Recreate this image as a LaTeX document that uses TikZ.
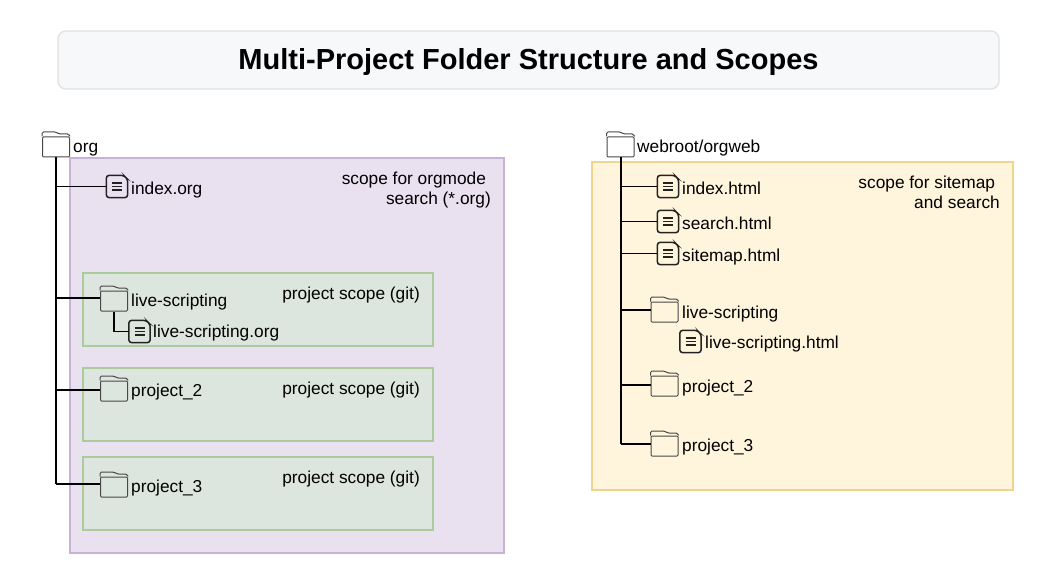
\documentclass[tikz,border=0pt]{standalone}
\usepackage{fontspec}
\setmainfont{Liberation Sans}
\usetikzlibrary{positioning}
\definecolor{titlefill}{HTML}{F7F8FA}
\definecolor{titleline}{HTML}{DFE0E2}
\definecolor{orgfill}{HTML}{E9E1EF}
\definecolor{orgline}{HTML}{C6B3D6}
\definecolor{gitfill}{HTML}{DDE6DE}
\definecolor{gitline}{HTML}{ABCB9C}
\definecolor{webfill}{HTML}{FFF4DC}
\definecolor{webline}{HTML}{EFD48C}
\definecolor{foldergray}{HTML}{484848}
\definecolor{fileline}{HTML}{222222}

\begin{document}
\begin{tikzpicture}[
    x=1pt,
    y=-1pt,
    font=\fontsize{17.3}{20}\selectfont,
    titlebox/.style={
		rectangle,
		rounded corners=8pt,
		draw=titleline,
		line width=1.3pt,
		fill=titlefill,
		minimum width=941pt,
		minimum height=58pt,
		text height=25pt,
		text depth=6pt,
		font=\fontsize{29}{34}\selectfont\bfseries
	},
	scopebox/.style={
		rectangle,
		line width=1.3pt,
		inner sep=0pt
	},
	orgscope/.style={scopebox, draw=orgline, fill=orgfill, minimum width=434pt, minimum height=395pt},
	webscope/.style={scopebox, draw=webline, fill=webfill, minimum width=421pt, minimum height=328pt},
	gitscope/.style={scopebox, draw=gitline, fill=gitfill, minimum width=350pt, minimum height=73pt},
	foldericon/.style={
		rectangle,
		draw=foldergray,
		rounded corners=1pt,
		line width=1pt,
		inner sep=0pt,
		minimum width=27pt,
		minimum height=20pt,
		append after command={\pgfextra{
			\draw [foldergray, line width=1pt, rounded corners=1.5pt]
				(\tikzlastnode.north west) -- ++(0,-4.5) -- ++(14,0) -- ++(3,2) -- ++(10,0) -- (\tikzlastnode.north east);
		}}
	},
	fileicon/.style={
		rectangle,
		inner sep=0pt,
		minimum width=21pt,
		minimum height=22pt,
		append after command={\pgfextra{
			\draw [fileline, line width=1.5pt, rounded corners=3pt]
				(\tikzlastnode.north west) -- ([xshift=-4pt]\tikzlastnode.north east)
				-- ([yshift=-4pt]\tikzlastnode.north east) -- (\tikzlastnode.south east)
				-- (\tikzlastnode.south west) -- cycle;
			\draw [fileline, line width=1.4pt]
				([xshift=-5pt,yshift=3.5pt]\tikzlastnode.center) -- ([xshift=5pt,yshift=3.5pt]\tikzlastnode.center)
				([xshift=-5pt]\tikzlastnode.center) -- ([xshift=5pt]\tikzlastnode.center)
				([xshift=-5pt,yshift=-3.5pt]\tikzlastnode.center) -- ([xshift=5pt,yshift=-3.5pt]\tikzlastnode.center);
		}}
	},
	itemtext/.style={anchor=base west, inner sep=0pt, text=black},
	scopetext/.style={anchor=base east, inner sep=0pt, align=right, text=black},
	trunk/.style={black, line width=2pt},
	branch/.style={black, line width=1.1pt}
  ]

 \useasboundingbox (0,0) rectangle (1048,577);

% // The title
 \node [titlebox] (title) at (528.5,60) {Multi-Project Folder Structure and Scopes};

% // The scopes
 \node [orgscope] (orgbox) at (287,355.5) {};
 \node [webscope] (webbox) at (802.5,326) {};
 \node [gitscope] (gitbox1) at (258,309.5) {};
 \node [gitscope] (gitbox2) at (258,404.5) {};
 \node [gitscope] (gitbox3) at (258,493.5) {};

 \node [scopetext] (orgscopetext) at (491,205) {scope for orgmode\kern4.8pt\\search (*.org)};
 \node [scopetext] (webscopetext) at (1000,208) {scope for sitemap\kern4.8pt\\and search};
 \node [scopetext] (gittext1) at (420,299) {project scope (git)};
 \node [scopetext] (gittext2) at (420,394) {project scope (git)};
 \node [scopetext] (gittext3) at (420,483) {project scope (git)};

% // The org tree
 \node [foldericon] (org) at (56,147) {};
 \node [fileicon] (indexorg) at (117,186.5) {};
 \node [foldericon] (live) at (114,301) {};
 \node [fileicon] (liveorg) at (139.5,331.5) {};
 \node [foldericon] (proj2) at (114,391) {};
 \node [foldericon] (proj3) at (114,487) {};

 \draw [trunk] (org.south) -- ([yshift=3pt]org.south |- proj3.west);
 \draw [branch] (org.south |- indexorg.west) -- (indexorg.west);
 \draw [branch] ([yshift=3pt]org.south |- live.west) -- ([yshift=3pt]live.west);
 \draw [branch] ([yshift=1pt]org.south |- proj2.west) -- ([yshift=1pt]proj2.west);
 \draw [branch] ([yshift=3pt]org.south |- proj3.west) -- ([yshift=3pt]proj3.west);
 \draw [branch] (live.south) |- (liveorg.west);

 \node [itemtext] (orgtext) at (73,153) {org};
 \node [itemtext] (indexorgtext) at (131,195) {index.org};
 \node [itemtext] (livetext) at (131,306) {live-scripting};
 \node [itemtext] (liveorgtext) at (153,337) {live-scripting.org};
 \node [itemtext] (proj2text) at (131,396) {project\_2};
 \node [itemtext] (proj3text) at (131,492) {project\_3};

% // The webroot tree
 \node [foldericon] (web) at (620.5,147) {};
 \node [fileicon] (indexhtml) at (668,186.5) {};
 \node [fileicon] (searchhtml) at (668,221.5) {};
 \node [fileicon] (sitemaphtml) at (668,253.5) {};
 \node [foldericon] (weblive) at (664.5,312) {};
 \node [fileicon] (livehtml) at (690.5,341.5) {};
 \node [foldericon] (webproj2) at (664.5,386) {};
 \node [foldericon] (webproj3) at (664.5,446) {};

 \draw [trunk] (web.south) -- ([yshift=2pt]web.south |- webproj3.west);
 \draw [branch] (web.south |- indexhtml.west) -- (indexhtml.west);
 \draw [branch] (web.south |- searchhtml.west) -- (searchhtml.west);
 \draw [branch] (web.south |- sitemaphtml.west) -- (sitemaphtml.west);
 \draw [branch] ([yshift=2pt]web.south |- weblive.west) -- ([yshift=2pt]weblive.west);
 \draw [branch] ([yshift=1pt]web.south |- webproj2.west) -- ([yshift=1pt]webproj2.west);
 \draw [branch] ([yshift=2pt]web.south |- webproj3.west) -- ([yshift=2pt]webproj3.west);

 \node [itemtext] (webtext) at (637,153) {webroot/orgweb};
 \node [itemtext] (indexhtmltext) at (682,195) {index.html};
 \node [itemtext] (searchhtmltext) at (682,229.5) {search.html};
 \node [itemtext] (sitemaphtmltext) at (682,261) {sitemap.html};
 \node [itemtext] (weblivetext) at (682,318) {live-scripting};
 \node [itemtext] (livehtmltext) at (705,348) {live-scripting.html};
 \node [itemtext] (webproj2text) at (682,392) {project\_2};
 \node [itemtext] (webproj3text) at (682,451) {project\_3};

\end{tikzpicture}
\end{document}
